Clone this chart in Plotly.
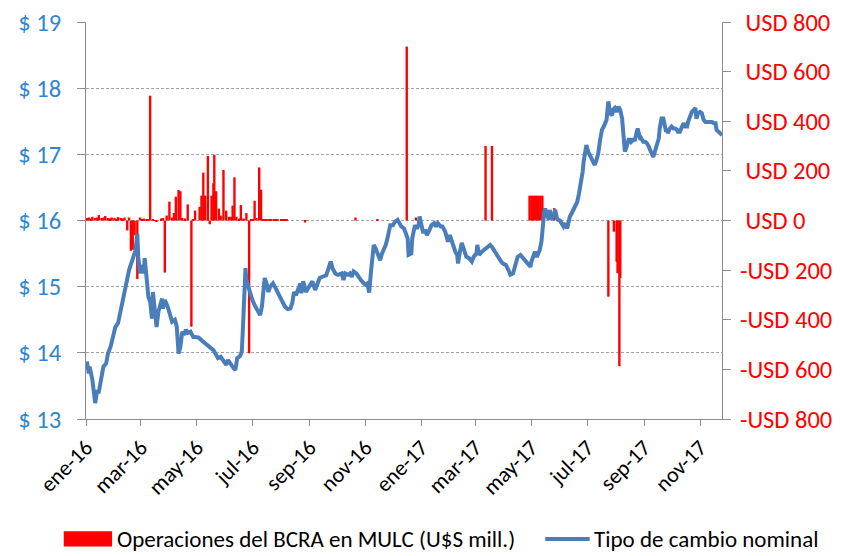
import plotly.graph_objects as go

# Tipo de cambio nominal ($ por USD)
fechas_tc = [
    "2016-01-02", "2016-01-04", "2016-01-05", "2016-01-08", "2016-01-11", "2016-01-13", "2016-01-15",
    "2016-01-18", "2016-01-20", "2016-01-23", "2016-01-25", "2016-01-28", "2016-01-31",
    "2016-02-02", "2016-02-05", "2016-02-07", "2016-02-10", "2016-02-12", "2016-02-14", "2016-02-17",
    "2016-02-19", "2016-02-22", "2016-02-24", "2016-02-26", "2016-02-27", "2016-02-29",
    "2016-03-02", "2016-03-04", "2016-03-05", "2016-03-07", "2016-03-09", "2016-03-11", "2016-03-13",
    "2016-03-14", "2016-03-16", "2016-03-18", "2016-03-20", "2016-03-22", "2016-03-24", "2016-03-25",
    "2016-03-27", "2016-03-30",
    "2016-04-02", "2016-04-04", "2016-04-07", "2016-04-09", "2016-04-11", "2016-04-13", "2016-04-15",
    "2016-04-17", "2016-04-19", "2016-04-21", "2016-04-24", "2016-04-27", "2016-04-29",
    "2016-05-03", "2016-05-06", "2016-05-10", "2016-05-14", "2016-05-16", "2016-05-19", "2016-05-22",
    "2016-05-24", "2016-05-27", "2016-05-30",
    "2016-06-02", "2016-06-04", "2016-06-07", "2016-06-10", "2016-06-12", "2016-06-14", "2016-06-17",
    "2016-06-19", "2016-06-20", "2016-06-21", "2016-06-23", "2016-06-24", "2016-06-26", "2016-06-28",
    "2016-06-30",
    "2016-07-03", "2016-07-06", "2016-07-09", "2016-07-11", "2016-07-12", "2016-07-14", "2016-07-16",
    "2016-07-18", "2016-07-20", "2016-07-23", "2016-07-25", "2016-07-28", "2016-07-31",
    "2016-08-03", "2016-08-05", "2016-08-08", "2016-08-11", "2016-08-13", "2016-08-15", "2016-08-17",
    "2016-08-20", "2016-08-22", "2016-08-23", "2016-08-25", "2016-08-28", "2016-08-31",
    "2016-09-02", "2016-09-04", "2016-09-07", "2016-09-09", "2016-09-12", "2016-09-15", "2016-09-19",
    "2016-09-21", "2016-09-24", "2016-09-26", "2016-09-29",
    "2016-10-02", "2016-10-06", "2016-10-08", "2016-10-10", "2016-10-13", "2016-10-15", "2016-10-17",
    "2016-10-19", "2016-10-22", "2016-10-24", "2016-10-27", "2016-10-30",
    "2016-11-01", "2016-11-03", "2016-11-05", "2016-11-07", "2016-11-08", "2016-11-10", "2016-11-12",
    "2016-11-14", "2016-11-17", "2016-11-19", "2016-11-20", "2016-11-23", "2016-11-25", "2016-11-27",
    "2016-11-28",
    "2016-12-01", "2016-12-03", "2016-12-06", "2016-12-08", "2016-12-10", "2016-12-13", "2016-12-15",
    "2016-12-17", "2016-12-18", "2016-12-21", "2016-12-22", "2016-12-24", "2016-12-25", "2016-12-27",
    "2016-12-29", "2016-12-30",
    "2017-01-01", "2017-01-03", "2017-01-05", "2017-01-07", "2017-01-09", "2017-01-10", "2017-01-12",
    "2017-01-15", "2017-01-17", "2017-01-19", "2017-01-22", "2017-01-24", "2017-01-27", "2017-01-29",
    "2017-01-30",
    "2017-02-01", "2017-02-03", "2017-02-05", "2017-02-07", "2017-02-09", "2017-02-10", "2017-02-12",
    "2017-02-14", "2017-02-16", "2017-02-18", "2017-02-19", "2017-02-22", "2017-02-25", "2017-02-27",
    "2017-03-02", "2017-03-03", "2017-03-05", "2017-03-08", "2017-03-10", "2017-03-13", "2017-03-15",
    "2017-03-17", "2017-03-19", "2017-03-21", "2017-03-23", "2017-03-26", "2017-03-29", "2017-03-31",
    "2017-04-03", "2017-04-06", "2017-04-08", "2017-04-11", "2017-04-12", "2017-04-14", "2017-04-16",
    "2017-04-19", "2017-04-22", "2017-04-24", "2017-04-27", "2017-04-30",
    "2017-05-01", "2017-05-03", "2017-05-05", "2017-05-07", "2017-05-09", "2017-05-10", "2017-05-12",
    "2017-05-13", "2017-05-15", "2017-05-16", "2017-05-18", "2017-05-20", "2017-05-21", "2017-05-23",
    "2017-05-25", "2017-05-27", "2017-05-29", "2017-05-30",
    "2017-06-01", "2017-06-03", "2017-06-05", "2017-06-07", "2017-06-09", "2017-06-10", "2017-06-12",
    "2017-06-14", "2017-06-16", "2017-06-18", "2017-06-20", "2017-06-22", "2017-06-24", "2017-06-26",
    "2017-06-27", "2017-06-29", "2017-06-30",
    "2017-07-02", "2017-07-04", "2017-07-06", "2017-07-08", "2017-07-09", "2017-07-11", "2017-07-13",
    "2017-07-15", "2017-07-17", "2017-07-19", "2017-07-20", "2017-07-22", "2017-07-24", "2017-07-26",
    "2017-07-28", "2017-07-29", "2017-07-31",
    "2017-08-02", "2017-08-04", "2017-08-06", "2017-08-08", "2017-08-09", "2017-08-10", "2017-08-11",
    "2017-08-13", "2017-08-15", "2017-08-17", "2017-08-18", "2017-08-20", "2017-08-22", "2017-08-24",
    "2017-08-25", "2017-08-27", "2017-08-28", "2017-08-29", "2017-08-31",
    "2017-09-02", "2017-09-04", "2017-09-06", "2017-09-07", "2017-09-09", "2017-09-11", "2017-09-13",
    "2017-09-15", "2017-09-17", "2017-09-18", "2017-09-20", "2017-09-22", "2017-09-24", "2017-09-25",
    "2017-09-26", "2017-09-27", "2017-09-29",
    "2017-10-01", "2017-10-03", "2017-10-05", "2017-10-07", "2017-10-08", "2017-10-10", "2017-10-12",
    "2017-10-14", "2017-10-16", "2017-10-18", "2017-10-19", "2017-10-21", "2017-10-23", "2017-10-25",
    "2017-10-27", "2017-10-28", "2017-10-30",
    "2017-11-01", "2017-11-03", "2017-11-05", "2017-11-07", "2017-11-09", "2017-11-12", "2017-11-14",
    "2017-11-16", "2017-11-18", "2017-11-19", "2017-11-21", "2017-11-23", "2017-11-25",
]
tipo_cambio = [
    13.87, 13.69, 13.79, 13.59, 13.24, 13.41, 13.41, 13.69, 13.79, 13.84, 13.99, 14.10, 14.27,
    14.39, 14.45, 14.60, 14.75, 14.90, 15.05, 15.25, 15.35, 15.45, 15.55, 15.80, 15.45, 15.20,
    15.33, 15.20, 15.43, 15.15, 14.85, 14.77, 14.52, 14.92, 14.70, 14.39, 14.62, 14.75, 14.82, 14.67,
    14.80, 14.70,
    14.57, 14.47, 14.50, 14.40, 13.99, 14.09, 14.32, 14.27, 14.35, 14.30, 14.32, 14.24, 14.24,
    14.23, 14.19, 14.14, 14.09, 14.07, 14.04, 13.97, 13.92, 13.94, 13.87,
    13.82, 13.89, 13.82, 13.77, 13.74, 13.92, 13.95, 14.02, 14.30, 14.80, 15.28, 15.10, 15.00, 14.90,
    14.82,
    14.72, 14.65, 14.57, 14.70, 14.90, 15.13, 15.05, 14.92, 15.00, 15.05, 15.00, 14.92, 14.82,
    14.77, 14.70, 14.66, 14.67, 14.75, 14.92, 14.87, 15.00, 15.05, 14.90, 15.08, 14.92, 15.00,
    15.03, 15.08, 14.95, 15.03, 15.13, 15.15, 15.17, 15.25, 15.38, 15.28, 15.20,
    15.18, 15.20, 15.10, 15.20, 15.18, 15.20, 15.15, 15.23, 15.20, 15.15, 15.10, 15.05,
    15.03, 15.05, 14.91, 15.23, 15.43, 15.63, 15.58, 15.50, 15.40, 15.50, 15.53, 15.63, 15.73, 15.86,
    15.93,
    15.93, 15.98, 16.01, 15.96, 15.91, 15.88, 15.81, 15.73, 15.48, 15.50, 15.73, 15.91, 15.93, 15.88,
    15.93, 16.06,
    15.96, 15.81, 15.86, 15.78, 15.83, 15.88, 15.93, 15.96, 15.91, 15.96, 15.91, 15.91, 15.83, 15.73,
    15.68,
    15.78, 15.68, 15.58, 15.53, 15.48, 15.35, 15.53, 15.66, 15.58, 15.50, 15.45, 15.43, 15.38, 15.45,
    15.50, 15.63, 15.48, 15.53, 15.55, 15.58, 15.60, 15.63, 15.60, 15.55, 15.50, 15.45, 15.38, 15.35,
    15.33, 15.25, 15.18, 15.20, 15.25, 15.35, 15.45, 15.48, 15.43, 15.40, 15.35, 15.30,
    15.38, 15.48, 15.53, 15.45, 15.50, 15.55, 15.68, 15.88, 16.13, 16.18, 16.08, 16.01, 16.16, 16.01,
    16.08, 16.16, 16.03, 16.01,
    16.00, 15.94, 15.91, 15.96, 15.88, 15.94, 16.06, 16.11, 16.18, 16.23, 16.28, 16.41, 16.54, 16.74,
    16.89, 17.04, 17.14,
    17.04, 16.99, 16.94, 16.89, 16.84, 16.91, 17.02, 17.22, 17.37, 17.42, 17.47, 17.52, 17.80, 17.62,
    17.59, 17.67, 17.70,
    17.64, 17.72, 17.67, 17.54, 17.34, 17.14, 17.04, 17.12, 17.22, 17.22, 17.19, 17.22, 17.22, 17.34,
    17.39, 17.27, 17.22, 17.24, 17.19,
    17.19, 17.17, 17.12, 17.07, 17.02, 16.96, 17.04, 17.14, 17.24, 17.39, 17.54, 17.54, 17.44, 17.34,
    17.39, 17.32, 17.39,
    17.42, 17.39, 17.39, 17.37, 17.34, 17.34, 17.39, 17.47, 17.42, 17.42, 17.49, 17.59, 17.64, 17.67,
    17.70, 17.54, 17.62,
    17.64, 17.62, 17.52, 17.49, 17.49, 17.49, 17.49, 17.47, 17.47, 17.37, 17.34, 17.32, 17.29,
]

# Operaciones del BCRA en el MULC (millones de USD)
fechas_bcra = [
    "2016-01-02", "2016-01-04", "2016-01-06", "2016-01-08", "2016-01-11", "2016-01-13", "2016-01-15",
    "2016-01-18", "2016-01-20", "2016-01-22", "2016-01-25", "2016-01-27", "2016-01-29", "2016-02-01",
    "2016-02-03", "2016-02-05", "2016-02-08", "2016-02-10", "2016-02-12", "2016-02-15", "2016-02-17",
    "2016-02-19", "2016-02-21", "2016-02-23", "2016-02-26", "2016-02-29", "2016-03-02", "2016-03-04",
    "2016-03-07", "2016-03-09", "2016-03-11", "2016-03-14", "2016-03-16", "2016-03-18", "2016-03-23",
    "2016-03-25", "2016-03-27", "2016-03-29", "2016-04-01", "2016-04-04", "2016-04-06", "2016-04-08",
    "2016-04-11", "2016-04-13", "2016-04-15", "2016-04-18", "2016-04-21", "2016-04-25", "2016-04-27",
    "2016-04-29", "2016-05-04", "2016-05-06", "2016-05-08", "2016-05-10", "2016-05-13", "2016-05-15",
    "2016-05-17", "2016-05-19", "2016-05-20", "2016-05-22", "2016-05-25", "2016-05-27", "2016-05-30",
    "2016-06-02", "2016-06-05", "2016-06-07", "2016-06-09", "2016-06-11", "2016-06-13", "2016-06-16",
    "2016-06-18", "2016-06-21", "2016-06-24", "2016-06-27", "2016-06-29", "2016-07-01", "2016-07-03",
    "2016-07-05", "2016-07-08", "2016-07-10", "2016-07-12", "2016-07-14", "2016-07-16", "2016-07-19",
    "2016-07-21", "2016-07-24", "2016-07-26", "2016-07-28", "2016-08-01", "2016-08-03", "2016-08-05",
    "2016-08-07", "2016-08-27", "2016-10-21", "2016-11-14", "2016-12-16", "2016-12-26",
    "2017-03-12", "2017-03-19", "2017-04-29", "2017-05-01", "2017-05-03", "2017-05-05", "2017-05-07",
    "2017-05-09", "2017-05-11", "2017-05-13", "2017-05-26", "2017-07-24", "2017-07-30", "2017-08-02",
    "2017-08-03", "2017-08-05", "2017-08-06",
]
compras_bcra = [
    10, 12, 8, 15, 10, 12, 22,
    10, 12, 18, 10, 8, 12, 10,
    6, 14, 10, 8, 12, -40, 12,
    -122, -118, -60, -236, 12, 5, 8,
    5, 6, 503, 3, 2, -4, 8,
    10, -210, 20, 76, 12, 30, 96,
    123, 118, 10, 8, 65, -428, 5,
    40, 55, 100, 193, 100, 260, -15,
    100, 150, 265, 118, 48, 20, 204,
    40, 15, 15, 60, 174, 15, 8,
    62, 8, 30, -535, 5, 5, 80,
    10, 214, 124, 5, 4, 5, 3,
    4, 5, 3, 4, 3, 4, 3,
    3, -8, 12, 6, 701, 12,
    300, 300, 100, 100, 100, 100, 100,
    100, 100, 100, 50, -307, -45, -166,
    -212, -587, -232,
]

# Ejes
ticks_x = ["2016-01-01", "2016-03-01", "2016-05-01", "2016-07-01", "2016-09-01", "2016-11-01",
           "2017-01-01", "2017-03-01", "2017-05-01", "2017-07-01", "2017-09-01", "2017-11-01"]
etiquetas_x = ["ene-16", "mar-16", "may-16", "jul-16", "sep-16", "nov-16",
               "ene-17", "mar-17", "may-17", "jul-17", "sep-17", "nov-17"]
ticks_usd = [-800, -600, -400, -200, 0, 200, 400, 600, 800]
etiquetas_usd = ["-USD 800", "-USD 600", "-USD 400", "-USD 200", "\u00a0USD 0",
                 "\u00a0USD 200", "\u00a0USD 400", "\u00a0USD 600", "\u00a0USD 800"]

nombre_barras = "Operaciones del BCRA en MULC (U$S mill.)"
nombre_linea = "Tipo de cambio nominal"

FONT = "Carlito, Calibri, Roboto, sans-serif"
GRIS = "#8c8c8c"
ROJO = "#ff0000"
AZUL = "#4a7ebb"
DIA_MS = 86400000

fig = go.Figure()
fig.add_trace(
    go.Bar(
        x=fechas_bcra,
        y=compras_bcra,
        width=2.6 * DIA_MS,
        marker=dict(color=ROJO, line=dict(width=0)),
        name=nombre_barras,
        yaxis="y",
    )
)
fig.add_trace(
    go.Scatter(
        x=fechas_tc,
        y=tipo_cambio,
        mode="lines",
        line=dict(color=AZUL, width=4),
        name=nombre_linea,
        yaxis="y2",
    )
)

# leyenda dibujada a mano (una sola fila, más ancha que el área del gráfico)
y_ley = -0.302
fig.add_shape(type="rect", xref="paper", yref="paper",
              x0=-0.035, x1=0.041, y0=y_ley - 0.019, y1=y_ley + 0.019,
              fillcolor=ROJO, line=dict(width=0))
fig.add_shape(type="line", xref="paper", yref="paper",
              x0=0.722, x1=0.792, y0=y_ley, y1=y_ley,
              line=dict(color=AZUL, width=4))
fig.add_annotation(text=nombre_barras, xref="paper", yref="paper", x=0.045, y=y_ley,
                   xanchor="left", yanchor="middle", showarrow=False,
                   font=dict(size=23, color="black"))
fig.add_annotation(text=nombre_linea, xref="paper", yref="paper", x=0.796, y=y_ley,
                   xanchor="left", yanchor="middle", showarrow=False,
                   font=dict(size=23, color="black"))

# la página tiene 8px de margen, el área del gráfico queda en 86-722 x 22-419
fig.update_layout(
    width=841,
    height=556,
    margin=dict(l=78, r=127, t=14, b=145),
    plot_bgcolor="white",
    paper_bgcolor="white",
    font=dict(family=FONT, size=22, color="black"),
    showlegend=False,
    xaxis=dict(
        type="date",
        range=["2016-01-01", "2017-11-25"],
        tickvals=ticks_x,
        ticktext=etiquetas_x,
        tickangle=-45,
        tickfont=dict(size=22, color="black"),
        ticks="outside",
        ticklen=6,
        tickcolor=GRIS,
        showline=True,
        linecolor=GRIS,
        linewidth=1,
        showgrid=False,
        zeroline=False,
        automargin=False,
    ),
    yaxis=dict(
        side="right",
        range=[-800, 800],
        tickvals=ticks_usd,
        ticktext=etiquetas_usd,
        tickfont=dict(size=24.5, color=ROJO),
        ticks="outside",
        ticklen=8,
        tickcolor=GRIS,
        showline=True,
        linecolor=GRIS,
        linewidth=1,
        showgrid=False,
        zeroline=False,
        ticklabelstandoff=4,
        ticklabeloverflow="allow",
        automargin=False,
    ),
    yaxis2=dict(
        side="left",
        overlaying="y",
        range=[13, 19],
        dtick=1,
        tickprefix="$ ",
        tickfont=dict(size=24.5, color="#2e86d1"),
        ticks="outside",
        ticklen=8,
        tickcolor=GRIS,
        showline=True,
        linecolor=GRIS,
        linewidth=1,
        showgrid=True,
        gridcolor="#a6a6a6",
        griddash="3px,2px",
        gridwidth=1,
        zeroline=False,
        ticklabelstandoff=11,
        ticklabeloverflow="allow",
        automargin=False,
    ),
)

fig.write_html("out.html")
